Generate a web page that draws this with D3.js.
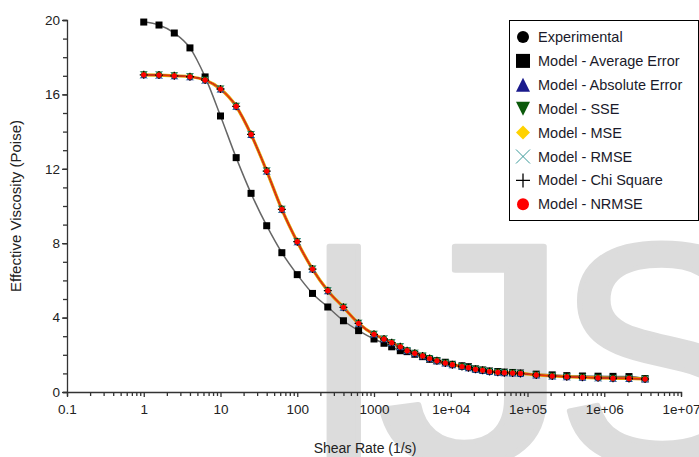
<!DOCTYPE html>
<html><head><meta charset="utf-8">
<script src="https://cdn.jsdelivr.net/npm/d3@7"></script>
<style>body{margin:0;background:#fff}svg{display:block}text{font-family:"Liberation Sans",Arial,sans-serif}</style>
</head><body><svg id="c" width="699" height="457"></svg>
<script>
// ---- data ----
const shearRate = [1,1.58,2.5,4,6.3,10,16,25,40,63,100,158,250,400,630,1000,1350,1700,2200,2700,3400,4300,5300,6600,8500,10500,14000,17000,21000,26000,32000,41000,50000,64000,81000,130000,210000,325000,520000,830000,1300000,2100000,3400000];
const experimental = [17.05,17.04,17.0,16.95,16.77,16.29,15.36,13.85,11.88,9.82,8.08,6.61,5.45,4.55,3.69,3.10,2.85,2.65,2.43,2.22,2.08,1.94,1.80,1.68,1.56,1.47,1.37,1.31,1.22,1.17,1.10,1.06,1.04,1.02,1.0,0.92,0.86,0.82,0.79,0.76,0.74,0.73,0.70];
const avgError = [19.89,19.73,19.3,18.5,16.94,14.84,12.6,10.68,8.94,7.49,6.31,5.3,4.57,3.83,3.3,2.85,2.62,2.43,2.22,2.17,2.03,1.90,1.76,1.68,1.60,1.49,1.41,1.36,1.24,1.18,1.13,1.10,1.07,1.05,1.02,0.96,0.92,0.88,0.86,0.85,0.84,0.83,0.72];
const absError = experimental.slice();
const sse = experimental.slice();
const mse = experimental.slice();
const rmse = experimental.slice();
const chiSquare = experimental.slice();
const nrmse = experimental.slice();
const seriesNames = ["Experimental","Model - Average Error","Model - Absolute Error","Model - SSE","Model - MSE","Model - RMSE","Model - Chi Square","Model - NRMSE"];
const xTickValues = [0.1,1,10,100,1000,1e4,1e5,1e6,1e7];
const xTickLabels = ["0.1","1","10","100","1000","1e+04","1e+05","1e+06","1e+07"];
const yTickValues = [0,4,8,12,16,20];
const watermark = ["I","J","S"];

// ---- setup ----
const svg = d3.select("#c");
const x = d3.scaleLog().domain([0.1,1e7]).range([67,681]);
const y = d3.scaleLinear().domain([0,20]).range([392,20]);

// watermark
const wmX = [300,376,555];
const wmSx = [1,1.25,1];
watermark.forEach((ch,i)=>{
  svg.append("text").attr("transform",`translate(${wmX[i]},463) scale(${wmSx[i]},1)`).attr("font-size",315)
    .attr("fill","#dcdcdc").attr("stroke","#dcdcdc").attr("stroke-width",5).attr("stroke-linejoin","round").text(ch);
});

// axes
const axisCol="#333";
const yMinor = d3.range(0,21,1);
const gy = svg.append("g").attr("transform","translate(67,0)");
gy.call(d3.axisLeft(y).tickValues(yMinor).tickSize(4).tickFormat(""));
gy.append("g").call(d3.axisLeft(y).tickValues(yTickValues).tickSize(5).tickPadding(2).tickFormat(d3.format("d"))).call(g=>g.select(".domain").remove());
gy.selectAll("line,path").attr("stroke",axisCol).attr("stroke-width",1.3);
gy.selectAll("text").attr("font-size",13.5).attr("fill","#222").attr("font-family","Liberation Sans, Arial");

const xMinor=[];
for(let e=-1;e<7;e++) for(let k=2;k<10;k++) xMinor.push(k*Math.pow(10,e));
const gx = svg.append("g").attr("transform","translate(0,392)");
gx.call(d3.axisBottom(x).tickValues(xMinor).tickSize(4).tickFormat(""));
gx.append("g").call(d3.axisBottom(x).tickValues(xTickValues).tickSize(5).tickPadding(7).tickFormat((d,i)=>xTickLabels[i])).call(g=>g.select(".domain").remove());
gx.selectAll("line,path").attr("stroke",axisCol).attr("stroke-width",1.3);
gx.selectAll("text").attr("font-size",13.5).attr("fill","#222").attr("font-family","Liberation Sans, Arial");

svg.append("text").attr("x",365).attr("y",453).attr("text-anchor","middle").attr("font-size",14).attr("fill","#222").text("Shear Rate (1/s)");
svg.append("text").attr("transform","translate(21,206) rotate(-90)").attr("text-anchor","middle").attr("font-size",15).attr("fill","#222").text("Effective Viscosity (Poise)");

// symbols
const sym = {
  circle: (g,r,c)=>g.append("circle").attr("r",r).attr("fill",c),
  square: (g,r,c)=>g.append("rect").attr("x",-r).attr("y",-r).attr("width",2*r).attr("height",2*r).attr("fill",c),
  triUp: (g,r,c)=>g.append("path").attr("d",`M0,${-r}L${r},${r}L${-r},${r}Z`).attr("fill",c),
  triDown: (g,r,c)=>g.append("path").attr("d",`M0,${r}L${r},${-r}L${-r},${-r}Z`).attr("fill",c),
  diamond: (g,r,c)=>g.append("path").attr("d",`M0,${-r}L${r},0L0,${r}L${-r},0Z`).attr("fill",c),
  cross: (g,r,c)=>g.append("path").attr("d",`M${-r},${-r}L${r},${r}M${r},${-r}L${-r},${r}`).attr("stroke",c).attr("stroke-width",1).attr("fill","none"),
  plus: (g,r,c)=>g.append("path").attr("d",`M${-r},0L${r},0M0,${-r}L0,${r}`).attr("stroke",c).attr("stroke-width",1.3).attr("fill","none"),
};

const series = [
  {name:seriesNames[0], v:experimental, sym:"circle", c:"#000", lc:"#000", lw:1, r:3},
  {name:seriesNames[1], v:avgError, sym:"square", c:"#000", lc:"#666", lw:1.5, r:3.5},
  {name:seriesNames[2], v:absError, sym:"triUp", c:"#1a1a8c", lc:"#1a1a8c", lw:1.2, r:3.5},
  {name:seriesNames[3], v:sse, sym:"triDown", c:"#0b5a0b", lc:"#0b5a0b", lw:1.2, r:3.5},
  {name:seriesNames[4], v:mse, sym:"diamond", c:"#ffd200", lc:"#e0a000", lw:3.2, r:3.5},
  {name:seriesNames[5], v:rmse, sym:"cross", c:"#3a9a9a", lc:"#3a9a9a", lw:1, r:3.5},
  {name:seriesNames[6], v:chiSquare, sym:"plus", c:"#000", lc:"#000", lw:1, r:4},
  {name:seriesNames[7], v:nrmse, sym:"circle", c:"#f00", lc:"#e83010", lw:1.6, r:2.6},
];
const line = d3.line().x((d,i)=>x(shearRate[i])).y(d=>y(d)).curve(d3.curveMonotoneX);
series.forEach(s=>{
  svg.append("path").datum(s.v).attr("d",line).attr("fill","none").attr("stroke",s.lc).attr("stroke-width",s.lw);
});
series.forEach(s=>{
  const g=svg.append("g");
  s.v.forEach((d,i)=>{
    const gg=g.append("g").attr("transform",`translate(${x(shearRate[i])},${y(d)})`);
    sym[s.sym](gg,s.r,s.c);
  });
});

// legend
const lg = svg.append("g");
lg.append("rect").attr("x",509.5).attr("y",20.5).attr("width",189).attr("height",200).attr("fill","#fff").attr("stroke","#000").attr("stroke-width",1);
const legR = {circle:6,square:7,triUp:7,triDown:7,diamond:7,cross:7,plus:7};
series.forEach((s,i)=>{
  const yy = 37 + i*23.9;
  const gg = lg.append("g").attr("transform",`translate(523,${yy})`);
  sym[s.sym](gg, legR[s.sym], s.c);
  lg.append("text").attr("x",538).attr("y",yy+5).attr("font-size",14.5).attr("fill","#1a1a2a").text(s.name);
});
</script></body></html>
